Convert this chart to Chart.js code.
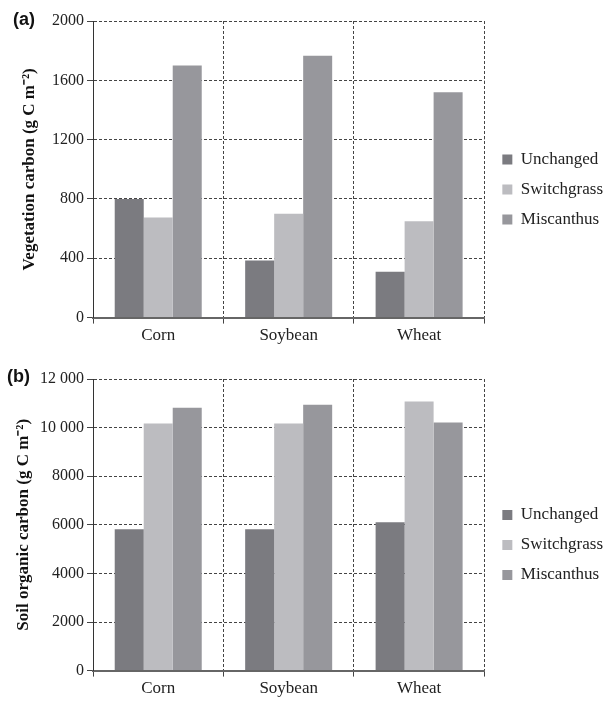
<!DOCTYPE html>
<html>
<head>
<meta charset="utf-8">
<script src="https://cdn.jsdelivr.net/npm/chart.js@4.4.1/dist/chart.umd.min.js"></script>
<style>
  body { margin: 0; background: #fff; }
  .wrap { position: relative; width: 606px; height: 701px; }
  canvas { position: absolute; left: 0; }
  .panel { position: absolute; font: bold 18px "Liberation Sans", Arial, sans-serif; line-height: 18px; color: #111; }
</style>
</head>
<body>
<div class="wrap">
  <canvas id="vegChart" width="606" height="348" style="top:0"></canvas>
  <canvas id="soilChart" width="606" height="359" style="top:342px"></canvas>
  <div class="panel" style="left:13px; top:10px">(a)</div>
  <div class="panel" style="left:7px; top:367px">(b)</div>
</div>
<script>
// categories and series
const categories = ['Corn', 'Soybean', 'Wheat'];
const seriesNames = ['Unchanged', 'Switchgrass', 'Miscanthus'];

const vegUnchanged = [800, 385, 310];
const vegSwitchgrass = [675, 700, 650];
const vegMiscanthus = [1700, 1765, 1520];

const soilUnchanged = [5820, 5820, 6100];
const soilSwitchgrass = [10170, 10170, 11070];
const soilMiscanthus = [10820, 10940, 10210];

// y tick values + labels
const vegTicks = [0, 400, 800, 1200, 1600, 2000];
const vegTickLabels = ['0', '400', '800', '1200', '1600', '2000'];
const soilTicks = [0, 2000, 4000, 6000, 8000, 10000, 12000];
const soilTickLabels = ['0', '2000', '4000', '6000', '8000', '10 000', '12 000'];

const barColors = ['#7b7b80', '#bcbcc0', '#97979c'];
const serif = '"Liberation Serif", "Times New Roman", serif';

// nudge the legend a few px right, the figure has a wider gap after the plot
const legendNudge = {
    id: 'legendNudge',
    afterLayout(chart) {
        chart.legend.left += 5;
        chart.legend.right += 5;
    }
};

function makeChart(id, series, ticks, tickLabels, yTitle, pad) {
    const ctx = document.getElementById(id).getContext('2d');
    return new Chart(ctx, {
        type: 'bar',
        data: {
            labels: categories,
            datasets: series.map((vals, i) => ({
                label: seriesNames[i],
                data: vals,
                backgroundColor: barColors[i],
                borderWidth: 0,
                categoryPercentage: 0.667,
                barPercentage: 1.0
            }))
        },
        options: {
            responsive: false,
            animation: false,
            layout: { padding: { top: pad.top, left: pad.left, right: -2, bottom: 0 } },
            plugins: {
                tooltip: { enabled: false },
                legend: {
                    position: 'right',
                    title: { display: true, text: '', font: { size: 10, lineHeight: 1 }, padding: 0 },
                    labels: {
                        boxWidth: 10,
                        boxHeight: 10,
                        padding: 13,
                        color: '#222',
                        font: { family: serif, size: 17 }
                    }
                }
            },
            scales: {
                x: {
                    grid: {
                        offset: true,
                        color: '#444',
                        lineWidth: 1,
                        tickLength: 6,
                        tickColor: '#444'
                    },
                    border: { color: '#666', width: 2, dash: [3, 2] },
                    ticks: { color: '#222', padding: 2, font: { family: serif, size: 17 } }
                },
                y: {
                    min: ticks[0],
                    max: ticks[ticks.length - 1],
                    afterBuildTicks: axis => { axis.ticks = ticks.map(v => ({ value: v })); },
                    afterFit: axis => { axis.width = 93 - pad.left; },
                    grid: {
                        color: '#444',
                        lineWidth: 1,
                        tickLength: 6,
                        tickColor: '#444'
                    },
                    border: { color: '#333', width: 1, dash: [3, 2] },
                    ticks: {
                        color: '#222',
                        padding: 3,
                        font: { family: serif, size: 16 },
                        callback: (v, i) => tickLabels[i]
                    },
                    title: {
                        display: true,
                        text: yTitle,
                        color: '#111',
                        padding: 0,
                        font: { family: serif, size: 17, weight: 'bold' }
                    }
                }
            }
        },
        plugins: [legendNudge]
    });
}

makeChart('vegChart', [vegUnchanged, vegSwitchgrass, vegMiscanthus], vegTicks, vegTickLabels,
    'Vegetation carbon (g C m\u207B\u00B2)', { top: 21, left: 19 });
makeChart('soilChart', [soilUnchanged, soilSwitchgrass, soilMiscanthus], soilTicks, soilTickLabels,
    'Soil organic carbon (g C m\u207B\u00B2)', { top: 37, left: 13 });
</script>
</body>
</html>
